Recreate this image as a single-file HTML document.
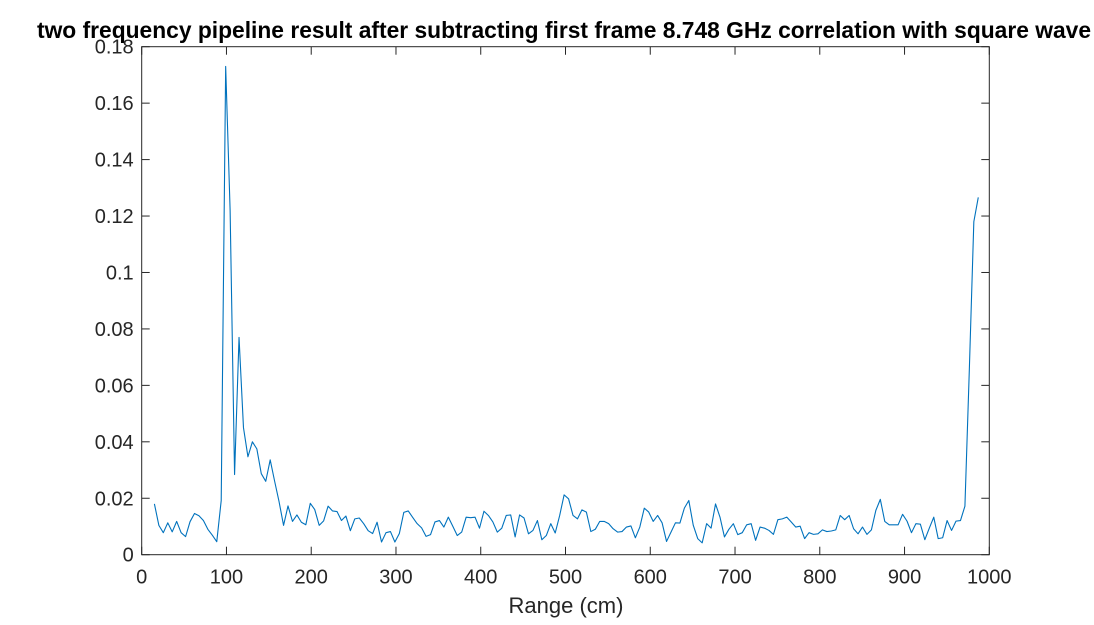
<!DOCTYPE html>
<html><head><meta charset="utf-8"><style>
html,body{margin:0;padding:0;background:#fff;}
svg{display:block;font-family:"Liberation Sans",Arial,sans-serif;}
</style></head><body>
<svg width="1094" height="625" viewBox="0 0 1094 625" xmlns="http://www.w3.org/2000/svg">
<rect x="0" y="0" width="1094" height="625" fill="#fff"/>
<text x="564" y="38" text-anchor="middle" font-size="22.8" font-weight="bold" fill="#000">two frequency pipeline result after subtracting first frame 8.748 GHz correlation with square wave</text>
<g id="plot"></g>
<text x="566" y="613" text-anchor="middle" font-size="22" fill="#262626">Range (cm)</text>
</svg>
<script>
const xTicks=[0,100,200,300,400,500,600,700,800,900,1000];
const yTicks=[0,0.02,0.04,0.06,0.08,0.1,0.12,0.14,0.16,0.18];
const yTickLabels=["0","0.02","0.04","0.06","0.08","0.1","0.12","0.14","0.16","0.18"];
const rangeStart=15, rangeEnd=987;
const values=[0.018,0.0104,0.0078,0.0113,0.0081,0.0118,0.0078,0.0064,0.0117,0.0146,0.0138,0.0121,0.0090,0.0069,0.0046,0.0192,
0.173,0.122,0.0284,0.077,0.045,0.0347,0.040,0.0375,0.0287,0.026,0.0336,0.026,0.0187,0.0104,0.0173,0.0118,0.0141,0.0115,0.0106,0.0182,0.016,0.0104,0.012,0.0172,0.0155,0.0153,0.0121,0.0137,0.0085,0.0127,0.0130,0.0110,0.0085,0.0075,0.0115,0.0045,0.0078,0.0082,0.0045,0.0075,0.0150,0.0155,0.0132,0.0110,0.0095,0.0065,
0.0071,0.0116,0.0121,0.0098,0.0133,0.0101,0.0068,0.0080,0.0133,0.0131,0.0133,0.0094,0.0154,0.0139,0.0116,0.0080,0.0094,0.0139,0.0141,0.0063,0.0141,0.0130,0.0074,0.0086,0.0121,0.0053,0.0068,0.0110,0.0077,0.0139,0.0212,0.0198,0.0139,0.0127,0.0159,0.0151,0.0082,0.0090,0.0118,0.0118,0.0110,0.0092,0.0080,0.0082,0.0098,0.0102,0.0060,0.0098,0.0165,0.0151,0.0118,0.0139,0.0113,0.0047,0.0080,0.0113,0.0112,0.0165,0.0192,0.0104,0.0057,0.0042,0.0110,
0.0094,0.0180,0.0133,0.0063,0.0090,0.0110,0.0071,0.0078,0.0106,0.0110,0.0051,0.0098,0.0094,0.0086,0.0072,0.0124,0.0127,0.0133,0.0116,0.0098,0.0101,0.0057,0.0078,0.0072,0.0074,0.0088,0.0082,0.0084,0.0088,0.0139,0.0124,0.0139,0.0092,0.0074,0.0098,0.0072,0.0088,0.0157,0.0196,0.0118,0.0106,0.0106,0.0106,0.0143,0.0119,0.0078,0.0110,0.0108,0.0053,0.0094,0.0133,0.0057,0.0060,0.0121,0.0086,0.0119,0.0121,0.0172,0.066,0.118,0.1266];
const L=141.7,R=989.3,T=46.7,B=554.7;
const xs=v=>L+(v-0)/(1000-0)*(R-L);
const ys=v=>B-(v-0)/(0.18-0)*(B-T);
const NS="http://www.w3.org/2000/svg";
const g=document.getElementById('plot');
function mk(t,a){const e=document.createElementNS(NS,t);for(const k in a)e.setAttribute(k,a[k]);g.appendChild(e);return e;}
const box=mk('rect',{x:L,y:T,width:R-L,height:B-T,fill:'none',stroke:'#262626','stroke-width':1});


xTicks.forEach(t=>{
  const x=xs(t);
  const a=mk('line',{x1:x,x2:x,y1:B,y2:B-8,stroke:'#262626','stroke-width':1});
  
  
  const b=mk('line',{x1:x,x2:x,y1:T,y2:T+8,stroke:'#262626','stroke-width':1});
  
  
  const tx=mk('text',{x:x,y:B+29,'text-anchor':'middle','font-size':20,fill:'#262626'});
  tx.textContent=String(t);
  
  
});
yTicks.forEach((t,i)=>{
  const y=ys(t);
  const a=mk('line',{x1:L,x2:L+8,y1:y,y2:y,stroke:'#262626','stroke-width':1});
  
  
  const b=mk('line',{x1:R,x2:R-8,y1:y,y2:y,stroke:'#262626','stroke-width':1});
  
  
  const tx=mk('text',{x:L-8,y:y+7,'text-anchor':'end','font-size':20,fill:'#262626'});
  tx.textContent=yTickLabels[i];
  
  
});
const n=values.length;
const pts=values.map((v,i)=>{const r=rangeStart+i*(rangeEnd-rangeStart)/(n-1);return xs(r).toFixed(2)+','+ys(v).toFixed(2);}).join(' ');
const line=mk('polyline',{points:pts,fill:'none',stroke:'#0072BD','stroke-width':1.1,'stroke-linejoin':'round'});


</script>
</body></html>
